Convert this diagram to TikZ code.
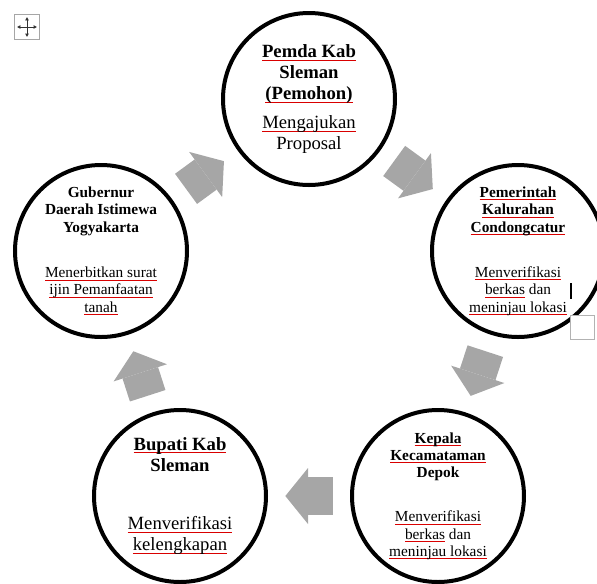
\documentclass[tikz,border=0pt]{standalone}
\usepackage{fontspec}
\setmainfont{Liberation Serif}
\usetikzlibrary{arrows.meta}
\definecolor{arrowgray}{RGB}{166,166,166}
\newsavebox{\typobox}
\newcommand{\typo}[1]{\sbox{\typobox}{#1}\rlap{\color{red!85!black}\rule[-2.2pt]{\wd\typobox}{0.6pt}}\usebox{\typobox}}

\begin{document}
\begin{tikzpicture}[x=0.75pt,y=-0.75pt,
  stage/.style={draw, circle, line width=3pt, fill=white, minimum size=129pt, inner sep=0pt, align=center},
  big/.style={font=\fontsize{14}{15.75}\selectfont},
  small/.style={font=\fontsize{11.5}{13}\selectfont},
  flow/.style={draw, color=arrowgray, line width=28pt, shorten <=13pt, shorten >=13pt, -{Triangle[length=17pt,width=42pt,line width=0pt]}}]
\useasboundingbox (0,0) rectangle (597,583);
% handles of the table
\node[draw=gray!70, fill=white, line width=0.6pt, minimum size=19pt, inner sep=0pt] (handle) at (27,27) {};
\draw[gray!40!black, line width=0.7pt, {Latex[length=2.5pt,width=3pt]}-{Latex[length=2.5pt,width=3pt]}] (17,27) -- (37,27);
\draw[gray!40!black, line width=0.7pt, {Latex[length=2.5pt,width=3pt]}-{Latex[length=2.5pt,width=3pt]}] (27,17) -- (27,37);
% stages
\node[stage, big] (n1) at (309,99) {\textbf{\typo{Pemda Kab}}\\\textbf{Sleman}\\\textbf{\typo{(Pemohon)}}\\[6pt]\typo{Mengajukan}\\Proposal};
\node[stage, small] (n2) at (518,251) {\textbf{\typo{Pemerintah}}\\\textbf{\typo{Kalurahan}}\\\textbf{\typo{Condongcatur}}\\[21pt]\typo{Menverifikasi}\\\typo{berkas} dan\\\typo{meninjau lokasi}};
\node[stage, small] (n3) at (438,496) {\textbf{\typo{Kepala}}\\\textbf{\typo{Kecamataman}}\\\textbf{Depok}\\[20pt]\typo{Menverifikasi}\\\typo{berkas} dan\\\typo{meninjau lokasi}};
\node[stage, big] (n4) at (180,496) {\textbf{\typo{Bupati Kab}}\\\textbf{Sleman}\\[28pt]\typo{Menverifikasi}\\\typo{kelengkapan}};
\node[stage, small] (n5) at (101,251) {\textbf{Gubernur}\\\textbf{Daerah Istimewa}\\\textbf{Yogyakarta}\\[21pt]\typo{Menerbitkan surat}\\\typo{ijin Pemanfaatan}\\\typo{tanah}};
% cycle
\path[flow] (n1) edge (n2);
\path[flow] (n2) edge (n3);
\path[flow] (n3) edge (n4);
\path[flow] (n4) edge (n5);
\path[flow] (n5) edge (n1);
% cursor and box at the right
\node[draw=gray!60, fill=white, line width=0.6pt, minimum size=18pt, inner sep=0pt] (box) at (582,327) {};
\draw[line width=0.8pt] (571,283) -- (571,299);
\end{tikzpicture}
\end{document}
